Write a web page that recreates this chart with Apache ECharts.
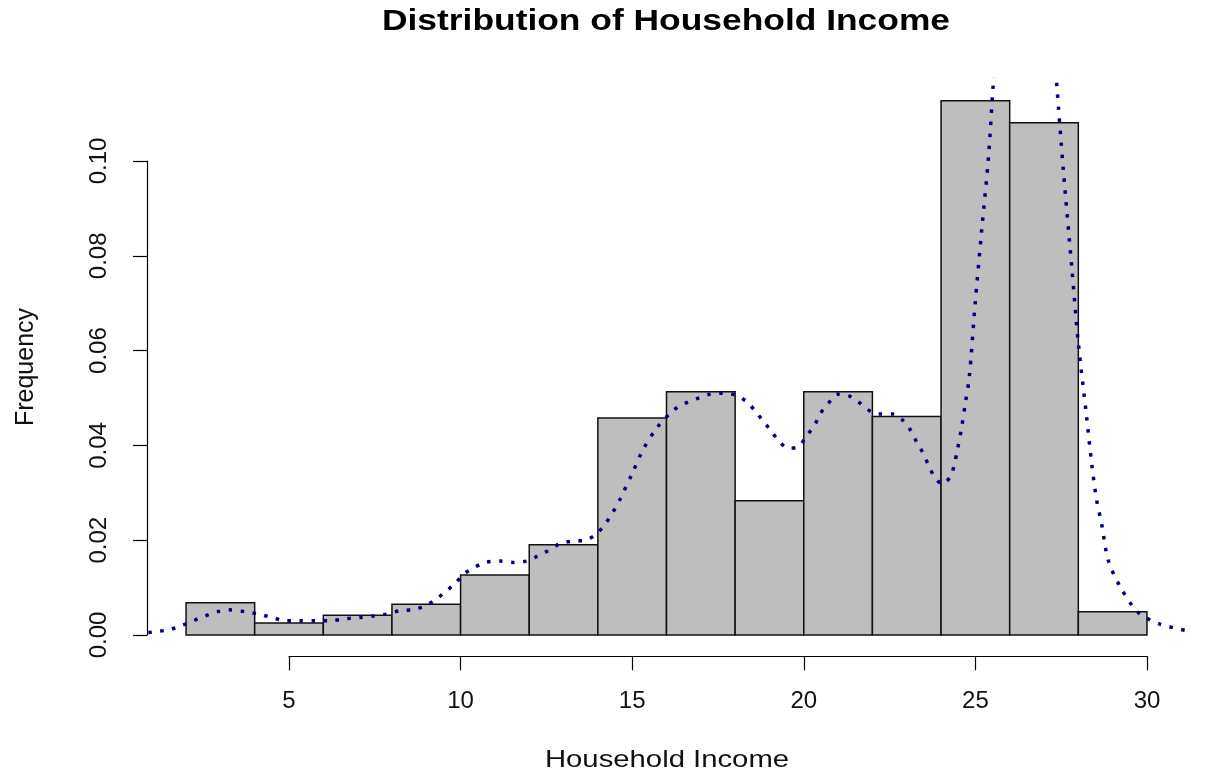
<!DOCTYPE html>
<html lang="en">
<head>
    <meta charset="utf-8">
    <title>Distribution of Household Income</title>
    <script src="https://cdn.jsdelivr.net/npm/echarts@6/dist/echarts.min.js"></script>
    <style>
        html, body { margin: 0; padding: 0; background: #fff; }
    </style>
</head>
<body>
    <div id="main" style="width:1217px;height:779px;"></div>
    <script type="text/javascript">
    // histogram bins (width 2) and densities
    var binStart = [2, 4, 6, 8, 10, 12, 14, 16, 18, 20, 22, 24, 26, 28];
    var binEnd   = [4, 6, 8, 10, 12, 14, 16, 18, 20, 22, 24, 26, 28, 30];
    var binDensity = [0.0068, 0.00253, 0.00418, 0.0065, 0.01263, 0.01905, 0.0458, 0.0513, 0.0283,
                      0.0513, 0.0461, 0.1127, 0.1081, 0.0049];

    // kernel density curve
    var densityX = [0.9, 1.1, 1.5, 1.87, 2.21, 2.55, 2.91, 3.28, 3.72, 4.11,
                    4.5, 4.88, 5.32, 5.76, 6.19, 6.63, 7.07, 7.46, 7.83, 8.23,
                    8.67, 9.01, 9.3, 9.57, 9.84, 10.06, 10.32, 10.71, 11.15, 11.54,
                    11.93, 12.26, 12.58, 12.88, 13.24, 13.63, 13.94, 14.21, 14.43, 14.65,
                    14.99, 15.31, 15.71, 16.18, 16.49, 16.86, 17.25, 17.64, 18.02, 18.34,
                    18.58, 18.82, 19.04, 19.29, 19.55, 19.84, 20.08, 20.31, 20.47, 20.7,
                    20.98, 21.3, 21.59, 21.85, 22.17, 22.61, 22.9, 23.12, 23.29, 23.48,
                    23.63, 23.8, 24.04, 24.28, 24.39, 24.47, 24.6, 24.71, 24.82, 24.99,
                    25.18, 25.38, 25.52, 25.7, 26.0, 26.45, 26.9, 27.2, 27.37, 27.56,
                    27.81, 28.0, 28.24, 28.39, 28.53, 28.68, 28.87, 29.21, 29.75, 30.38,
                    31.1];
    var densityY = [0.0005, 0.0007, 0.0011, 0.002, 0.003, 0.004, 0.0049, 0.0053, 0.0049, 0.0044,
                    0.0037, 0.003, 0.003, 0.003, 0.003, 0.0034, 0.0037, 0.004, 0.0044, 0.0051,
                    0.0054, 0.0063, 0.0076, 0.0092, 0.0108, 0.0127, 0.0139, 0.0153, 0.0156, 0.0153,
                    0.0156, 0.0167, 0.0179, 0.0192, 0.0198, 0.02, 0.0212, 0.0234, 0.0258, 0.0287,
                    0.0339, 0.039, 0.0436, 0.0473, 0.0487, 0.0498, 0.0508, 0.051, 0.0506, 0.0492,
                    0.0473, 0.0451, 0.0431, 0.0408, 0.0394, 0.0397, 0.042, 0.0442, 0.0466, 0.0487,
                    0.0508, 0.0505, 0.0492, 0.0476, 0.0466, 0.0466, 0.0452, 0.0431, 0.0407, 0.0383,
                    0.0359, 0.0335, 0.0318, 0.0335, 0.0361, 0.0388, 0.0438, 0.049, 0.0542, 0.0696,
                    0.0851, 0.1006, 0.1161, 0.132, 0.15, 0.158, 0.148, 0.13, 0.1161, 0.0983,
                    0.0775, 0.0616, 0.0461, 0.0361, 0.0286, 0.0234, 0.0158, 0.0103, 0.0047, 0.0023,
                    0.001];

    var xTicks = [5, 10, 15, 20, 25, 30];
    var yTicks = [0, 0.02, 0.04, 0.06, 0.08, 0.10];

    var FONT = '"Liberation Sans", Arial, sans-serif';

    var barData = binStart.map(function (s, i) { return [s, binEnd[i], binDensity[i]]; });
    var lineData = densityX.map(function (x, i) { return [x, densityY[i]]; });

    var myChart = echarts.init(document.getElementById('main'));

    // plot region (R style: data range + 4%)
    var plotBox = { left: 147.6, right: 31.6, top: 79.5, bottom: 122.7 };

    var option = {
        animation: false,
        backgroundColor: '#fff',
        grid: [
            { left: plotBox.left, right: plotBox.right, top: plotBox.top, bottom: plotBox.bottom },
            // x axis drawn only over the tick range
            { left: 289, right: 70, top: plotBox.top, bottom: plotBox.bottom },
            // y axis drawn only over the tick range
            { left: 147, right: plotBox.right, top: 161, bottom: 144 }
        ],
        xAxis: [{
            gridIndex: 0, type: 'value', min: 0.88, max: 31.12,
            axisLine: { show: false }, axisTick: { show: false },
            axisLabel: { show: false }, splitLine: { show: false }
        }, {
            gridIndex: 1, type: 'value', min: xTicks[0], max: xTicks[xTicks.length - 1], interval: 5,
            axisLine: { show: true, onZero: false, lineStyle: { color: '#000', width: 1.2 } },
            axisTick: { show: true, length: 14, lineStyle: { color: '#000', width: 1.2 } },
            axisLabel: { show: true, margin: 33, color: '#111', fontSize: 24, fontFamily: FONT },
            splitLine: { show: false }
        }, {
            gridIndex: 2, type: 'value', min: 0, max: 1,
            show: false
        }],
        yAxis: [{
            gridIndex: 0, type: 'value', min: -0.0045, max: 0.1172,
            axisLine: { show: false }, axisTick: { show: false },
            axisLabel: { show: false }, splitLine: { show: false }
        }, {
            gridIndex: 1, type: 'value', min: 0, max: 1, show: false
        }, {
            gridIndex: 2, type: 'value', min: yTicks[0], max: yTicks[yTicks.length - 1], interval: 0.02,
            axisLine: { show: true, onZero: false, lineStyle: { color: '#000', width: 1.2 } },
            axisTick: { show: true, length: 14, lineStyle: { color: '#000', width: 1.2 } },
            axisLabel: {
                show: true, rotate: 90, margin: 36, color: '#111', fontSize: 24, fontFamily: FONT,
                formatter: function (v) { return v.toFixed(2); }
            },
            splitLine: { show: false }
        }],
        graphic: [{
            type: 'text', x: 666, y: 22, scaleX: 1.22,
            style: { text: 'Distribution of Household Income', fill: '#000', align: 'center', verticalAlign: 'middle',
                     font: 'bold 29px ' + FONT }
        }, {
            type: 'text', x: 667, y: 760, scaleX: 1.22,
            style: { text: 'Household Income', fill: '#111', align: 'center', verticalAlign: 'middle',
                     font: '24px ' + FONT }
        }, {
            type: 'text', x: 26, y: 367, rotation: Math.PI / 2,
            style: { text: 'Frequency', fill: '#111', align: 'center', verticalAlign: 'middle',
                     font: '25px ' + FONT }
        }],
        series: [{
            type: 'custom',
            xAxisIndex: 0, yAxisIndex: 0,
            data: barData,
            encode: { x: [0, 1], y: 2 },
            renderItem: function (params, api) {
                var p0 = api.coord([api.value(0), 0]);
                var p1 = api.coord([api.value(1), api.value(2)]);
                return {
                    type: 'rect',
                    shape: { x: p0[0], y: p1[1], width: p1[0] - p0[0], height: p0[1] - p1[1] },
                    style: { fill: '#bebebe', stroke: '#111', lineWidth: 1.5 }
                };
            },
            z: 2
        }, {
            type: 'line',
            xAxisIndex: 0, yAxisIndex: 0,
            data: lineData,
            symbol: 'none',
            smooth: 0.3,
            clip: true,
            lineStyle: { color: '#000080', width: 3.5, type: [3.5, 8.5], cap: 'butt' },
            z: 3
        }]
    };
    myChart.setOption(option);
    </script>
</body>
</html>
